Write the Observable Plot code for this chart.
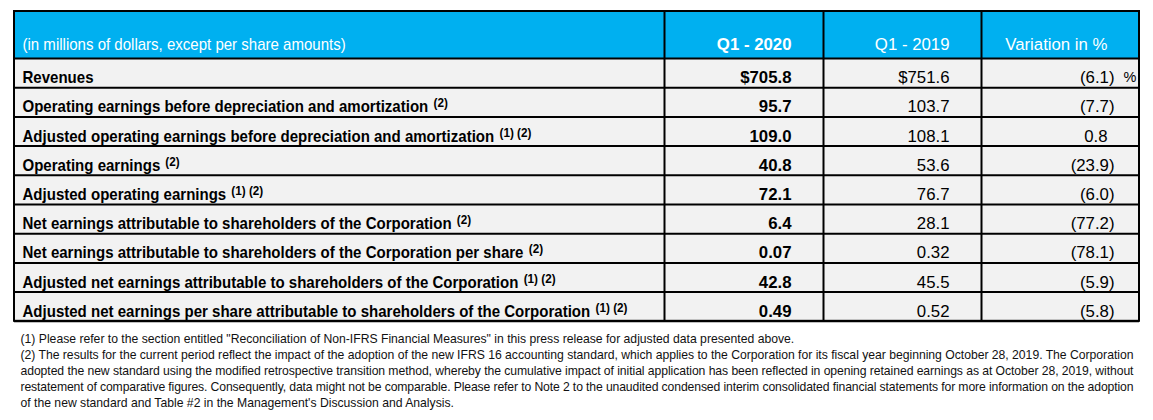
<!DOCTYPE html>
<html><head><meta charset="utf-8">
<script src="https://cdn.jsdelivr.net/npm/d3@7"></script>
<script src="https://cdn.jsdelivr.net/npm/@observablehq/plot@0.6"></script>
<style>html,body{margin:0;padding:0;background:#fff;}</style>
</head><body><div id="chart"></div>
<script>
// ---------- DATA ----------
const headerLabels = ["(in millions of dollars, except per share amounts)", "Q1 - 2020", "Q1 - 2019", "Variation in %"];
const rowLabels = [
  "Revenues",
  "Operating earnings before depreciation and amortization",
  "Adjusted operating earnings before depreciation and amortization",
  "Operating earnings",
  "Adjusted operating earnings",
  "Net earnings attributable to shareholders of the Corporation",
  "Net earnings attributable to shareholders of the Corporation per share",
  "Adjusted net earnings attributable to shareholders of the Corporation",
  "Adjusted net earnings per share attributable to shareholders of the Corporation"
];
const rowNotes = ["", "(2)", "(1) (2)", "(2)", "(1) (2)", "(2)", "(2)", "(1) (2)", "(1) (2)"];
const q1_2020 = [705.8, 95.7, 109.0, 40.8, 72.1, 6.4, 0.07, 42.8, 0.49];
const q1_2019 = [751.6, 103.7, 108.1, 53.6, 76.7, 28.1, 0.32, 45.5, 0.52];
const variationPct = [-6.1, -7.7, 0.8, -23.9, -6.0, -77.2, -78.1, -5.9, -5.8];
const decimals = [1, 1, 1, 1, 1, 1, 2, 1, 2];
const currencyPrefix = ["$", "", "", "", "", "", "", "", ""];
const footnotes = [
  "(1) Please refer to the section entitled \"Reconciliation of Non-IFRS Financial Measures\" in this press release for adjusted data presented above.",
  "(2) The results for the current period reflect the impact of the adoption of the new IFRS 16 accounting standard, which applies to the Corporation for its fiscal year beginning October 28, 2019. The Corporation",
  "adopted the new standard using the modified retrospective transition method, whereby the cumulative impact of initial application has been reflected in opening retained earnings as at October 28, 2019, without",
  "restatement of comparative figures. Consequently, data might not be comparable. Please refer to Note 2 to the unaudited condensed interim consolidated financial statements for more information on the adoption",
  "of the new standard and Table #2 in the Management's Discussion and Analysis."
];
const justifiedFootnotes = [false, true, true, true, false];

// ---------- LAYOUT / STYLE ----------
const W = 1153, H = 420;
const L = {left: 14, right: 1139, top: 11, headerBottom: 58, rowH: 29.2,
  cols: [14, 664, 823, 981, 1139], pad: 32, parenW: 7, labelX: 22,
  headerBase: 49, fnX: 20, fnBase: 342, fnStep: 16.1, fnRight: 1133};
const BLUE = "#00B0F0", GRAY = "#F2F2F2";

const ctx = document.createElement("canvas").getContext("2d");
function hasFont(name) {
  const s = "abcdefghijklmnopqrstuvwxyz ABCDEFG 0123456789";
  ctx.font = "16px monospace"; const a = ctx.measureText(s).width;
  ctx.font = `16px '${name}', monospace`; const b = ctx.measureText(s).width;
  return Math.abs(a - b) > 0.5;
}
const FAMILY = ["Liberation Sans", "Arial", "Roboto"].find(hasFont) || "sans-serif";
const FONT = `'${FAMILY}', sans-serif`;
function measure(t, size, weight = "normal") { ctx.font = `${weight} ${size}px ${FONT}`; return ctx.measureText(t).width; }

const FS = 16, NOTE_FS = 12.5, FSV = 16.8, PCT_FS = 14.5;
// horizontal condensing of the label texts, fitted to the reference label width
const SX = Math.min(0.98, Math.max(0.7, 406 / measure(rowLabels[1], FS, "bold")));
// footnote size fitted to the reference width of the first (unjustified) line
const fnFs = Math.min(15, Math.max(10, 13 * 775 / (measure(footnotes[0], 13) * SX)));
const CONDENSED = new Set([FS, NOTE_FS, +fnFs.toFixed(6)]);

const body = rowLabels.map((label, i) => ({label, note: rowNotes[i], a: q1_2020[i], b: q1_2019[i], v: variationPct[i], dec: decimals[i], pre: currencyPrefix[i], i}));
const rowTop = i => L.headerBottom + i * L.rowH;
const bottom = rowTop(rowLabels.length);
const baseY = i => rowTop(i) + L.rowH - 4.5;
const mid = (base, fs) => base - 0.32 * fs;
const fmtVar = v => v < 0 ? `(${Math.abs(v).toFixed(1)})` : v.toFixed(1);

const chart = Plot.plot({
  width: W, height: H,
  margin: 0,
  x: {type: "linear", domain: [0, W], range: [0, W], axis: null},
  y: {type: "linear", domain: [0, H], range: [0, H], axis: null},
  style: {fontFamily: FONT, background: "#fff"},
  marks: [
    Plot.rect([headerLabels], {x1: () => L.left, x2: () => L.right, y1: () => L.top, y2: () => L.headerBottom, fill: BLUE}),
    Plot.rect(body, {x1: () => L.left, x2: () => L.right, y1: d => rowTop(d.i), y2: d => rowTop(d.i) + L.rowH, fill: GRAY}),
    Plot.ruleY(d3.range(rowLabels.length + 1).map(rowTop), {x1: () => L.left, x2: () => L.right, stroke: "#000", strokeWidth: 2}),
    Plot.ruleX(L.cols.slice(1, -1), {y1: () => L.top, y2: () => bottom, stroke: "#000", strokeWidth: 2}),
    Plot.rect([0], {x1: () => L.left, x2: () => L.right, y1: () => L.top, y2: () => bottom, fill: "none", stroke: "#000", strokeWidth: 2}),
    // header
    Plot.text([headerLabels[0]], {x: () => L.labelX, y: () => mid(L.headerBase, FS), text: d => d, textAnchor: "start", fontSize: FS, fill: "#fff"}),
    Plot.text([headerLabels[1]], {x: () => L.cols[2] - L.pad, y: () => mid(L.headerBase, FSV), text: d => d, textAnchor: "end", fontSize: FSV, fontWeight: "bold", fill: "#fff"}),
    Plot.text(headerLabels.slice(2), {x: (d, i) => L.cols[i + 3] - L.pad, y: () => mid(L.headerBase, FSV), text: d => d, textAnchor: "end", fontSize: FSV, fill: "#fff"}),
    // row labels + superscript notes
    Plot.text(body, {x: () => L.labelX, y: d => mid(baseY(d.i), FS), text: "label", textAnchor: "start", fontSize: FS, fontWeight: "bold", fill: "#000"}),
    Plot.text(body.filter(d => d.note), {x: d => L.labelX + measure(d.label, FS, "bold") * SX + 5, y: d => mid(baseY(d.i) - 5, NOTE_FS), text: "note", textAnchor: "start", fontSize: NOTE_FS, fontWeight: "bold", fill: "#000"}),
    // values
    Plot.text(body, {x: () => L.cols[2] - L.pad, y: d => mid(baseY(d.i), FSV), text: d => d.pre + d.a.toFixed(d.dec), textAnchor: "end", fontSize: FSV, fontWeight: "bold", fill: "#000"}),
    Plot.text(body, {x: () => L.cols[3] - L.pad, y: d => mid(baseY(d.i), FSV), text: d => d.pre + d.b.toFixed(d.dec), textAnchor: "end", fontSize: FSV, fill: "#000"}),
    Plot.text(body, {x: d => L.cols[4] - L.pad + (d.v < 0 ? L.parenW : 0), y: d => mid(baseY(d.i), FSV), text: d => fmtVar(d.v), textAnchor: "end", fontSize: FSV, fill: "#000"}),
    Plot.text([body[0]], {x: () => L.cols[4] - 16, y: d => mid(baseY(d.i) - 1, PCT_FS), text: () => "%", textAnchor: "start", fontSize: PCT_FS, fill: "#000"}),
    // footnotes
    Plot.text(footnotes, {x: () => L.fnX, y: (d, i) => mid(L.fnBase + i * L.fnStep, fnFs), text: d => d, textAnchor: "start", fontSize: fnFs, fill: "#111"})
  ]
});

function fontSizeOf(el) {
  for (let n = el; n && n.getAttribute; n = n.parentNode) {
    const f = n.getAttribute("font-size");
    if (f != null) return parseFloat(f);
  }
  return NaN;
}
// condense the label-style texts horizontally around their anchor; justify the justified footnote lines
d3.select(chart).selectAll("text").each(function() {
  const fs = fontSizeOf(this);
  const condensed = [...CONDENSED].some(c => Math.abs(c - fs) < 0.01);
  const sx = condensed ? SX : 1;
  if (sx !== 1) {
    const t = this.getAttribute("transform") || "";
    const xa = this.getAttribute("x");
    let pre = "";
    if (xa != null && !isNaN(+xa)) { pre = ` translate(${+xa},0)`; this.removeAttribute("x"); }
    this.setAttribute("transform", `${t}${pre} scale(${sx},1)`);
  }
  const k = footnotes.indexOf(this.textContent);
  if (k >= 0 && justifiedFootnotes[k]) {
    this.setAttribute("textLength", (L.fnRight - L.fnX) / sx);
    this.setAttribute("lengthAdjust", "spacing");
  }
});
document.getElementById("chart").append(chart);
</script>
</body></html>
